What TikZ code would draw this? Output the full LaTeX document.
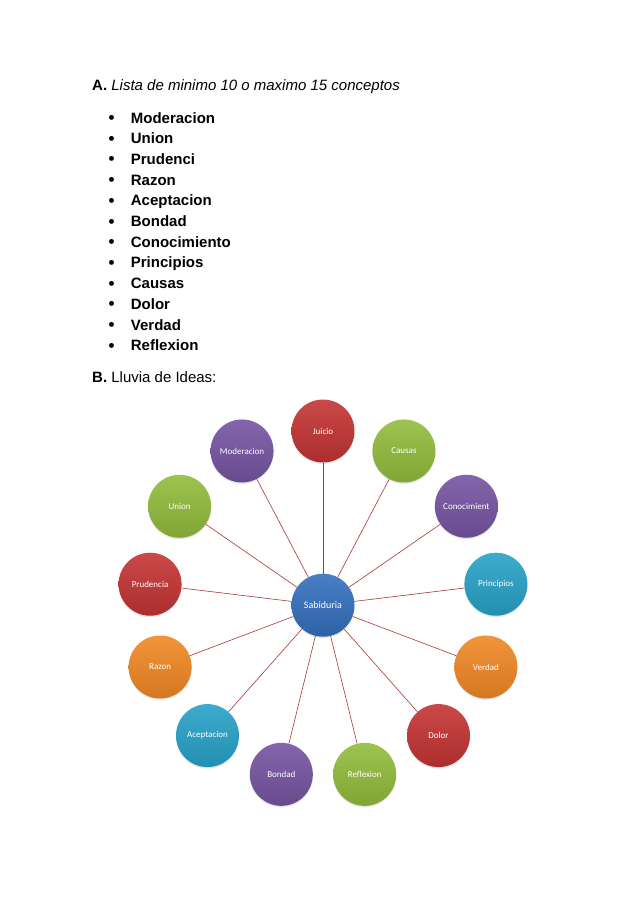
\documentclass[tikz,border=0pt]{standalone}
\usepackage{fontspec}
\setmainfont{Liberation Sans}
\newfontfamily\calibri{Carlito}
\usetikzlibrary{shadows}
\definecolor{wred}{RGB}{196,52,52}
\definecolor{wgreen}{RGB}{146,188,60}
\definecolor{wpurple}{RGB}{118,84,162}
\definecolor{waqua}{RGB}{40,162,200}
\definecolor{worange}{RGB}{241,136,36}
\definecolor{wblue}{RGB}{52,112,190}
\definecolor{wline}{RGB}{170,52,52}
\tikzset{
  txt/.style={anchor=base west, inner sep=0pt, font=\fontsize{15}{18}\selectfont},
  item/.style={txt, font=\bfseries\fontsize{15}{18}\selectfont},
  bul/.style={anchor=base, inner sep=0pt, font=\bfseries\fontsize{17}{18}\selectfont},
  idea/.style={circle, minimum size=63pt, inner sep=0pt, text=white,
               font=\calibri\fontsize{9}{10}\selectfont,
               top color=#1!90!white, bottom color=#1!88!black,
               drop shadow={opacity=0.2, shadow xshift=0pt, shadow yshift=-1.5pt}},
  spoke/.style={draw=wline, line width=0.6pt}
}

\begin{document}
\begin{tikzpicture}[x=1pt,y=-1pt]
  \useasboundingbox (0,0) rectangle (638,903);

  % part A
  \node[txt] (hA) at (92,90) {\textbf{A.} \textit{Lista de minimo 10 o maximo 15 conceptos}};
  \foreach \word [count=\i from 0] in {Moderacion,Union,Prudenci,Razon,Aceptacion,Bondad,
      Conocimiento,Principios,Causas,Dolor,Verdad,Reflexion}{
    \node[bul] (b\i) at (111.7,{123.5+20.7*\i}) {\textbullet};
    \node[item] (w\i) at (130.7,{123+20.7*\i}) {\word};
  }

  % part B
  \node[txt] (hB) at (92,382.7) {\textbf{B.} Lluvia de Ideas:};

  \node[idea=wblue, font=\calibri\fontsize{10}{11}\selectfont] (hub) at (323,605.2) {Sabiduria};
  \foreach \name/\col [count=\i from 0] in {Juicio/wred,Causas/wgreen,Conocimient/wpurple,
      Principios/waqua,Verdad/worange,Dolor/wred,Reflexion/wgreen,Bondad/wpurple,
      Aceptacion/waqua,Razon/worange,Prudencia/wred,Union/wgreen,Moderacion/wpurple}{
    \node[idea=\col] (c\i) at ({323+174.2*cos(90-27.692*\i)},{605.2-174.2*sin(90-27.692*\i)}) {\name};
    \draw[spoke] (hub) -- (c\i);
  }
\end{tikzpicture}
\end{document}
